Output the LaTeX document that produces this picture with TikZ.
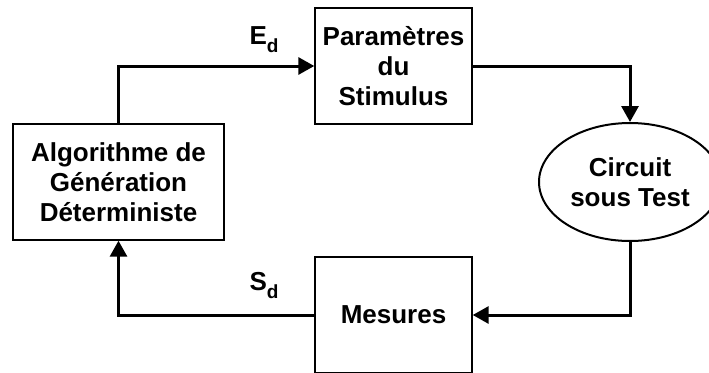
\documentclass[tikz,border=0pt]{standalone}
\usepackage{fontspec}
\setmainfont{Liberation Sans}
\usepackage{tikz}
\usetikzlibrary{
  arrows.meta,
  positioning,
  shapes.geometric
}
\newcommand{\sigsub}[1]{\raisebox{-8pt}{\fontsize{19}{19}\selectfont #1}}
\tikzset{
  boxtext/.style={font=\bfseries\fontsize{26}{30}\selectfont,align=center},
  block/.style={boxtext,draw,line width=1.4pt,rectangle,
                minimum width=157pt,minimum height=116pt,inner sep=0pt},
  flow/.style={line width=3pt,-{Triangle[length=16pt,width=17pt]}},
  sig/.style={font=\bfseries\fontsize{26}{30}\selectfont}
}

\begin{document}
\begin{tikzpicture}[x=1pt,y=-1pt]
  \clip (0,0) rectangle (709,372);
  \node[block,minimum width=211pt] (algo) at (118.5,182)
    {Algorithme de\\G\'en\'eration\\D\'eterministe};
  \node[block] (params) at (393.5,66) {Param\`etres\\du\\Stimulus};
  \node[boxtext,draw,line width=2pt,ellipse,minimum width=182pt,
        minimum height=118pt,inner sep=0pt] (circuit) at (630,182)
    {Circuit\\sous Test};
  \node[block] (mesures) at (393.5,315) {Mesures};
  % liaisons
  \draw[flow] (algo.north) |- (params.west);
  \draw[flow] (params.east) -| (circuit.north);
  \draw[flow] (circuit.south) |- (mesures.east);
  \draw[flow] (mesures.west) -| (algo.south);
  \node[sig] (lblE) at (264,40) {E\sigsub{d}};
  \node[sig] (lblS) at (264,286) {S\sigsub{d}};
\end{tikzpicture}
\end{document}
